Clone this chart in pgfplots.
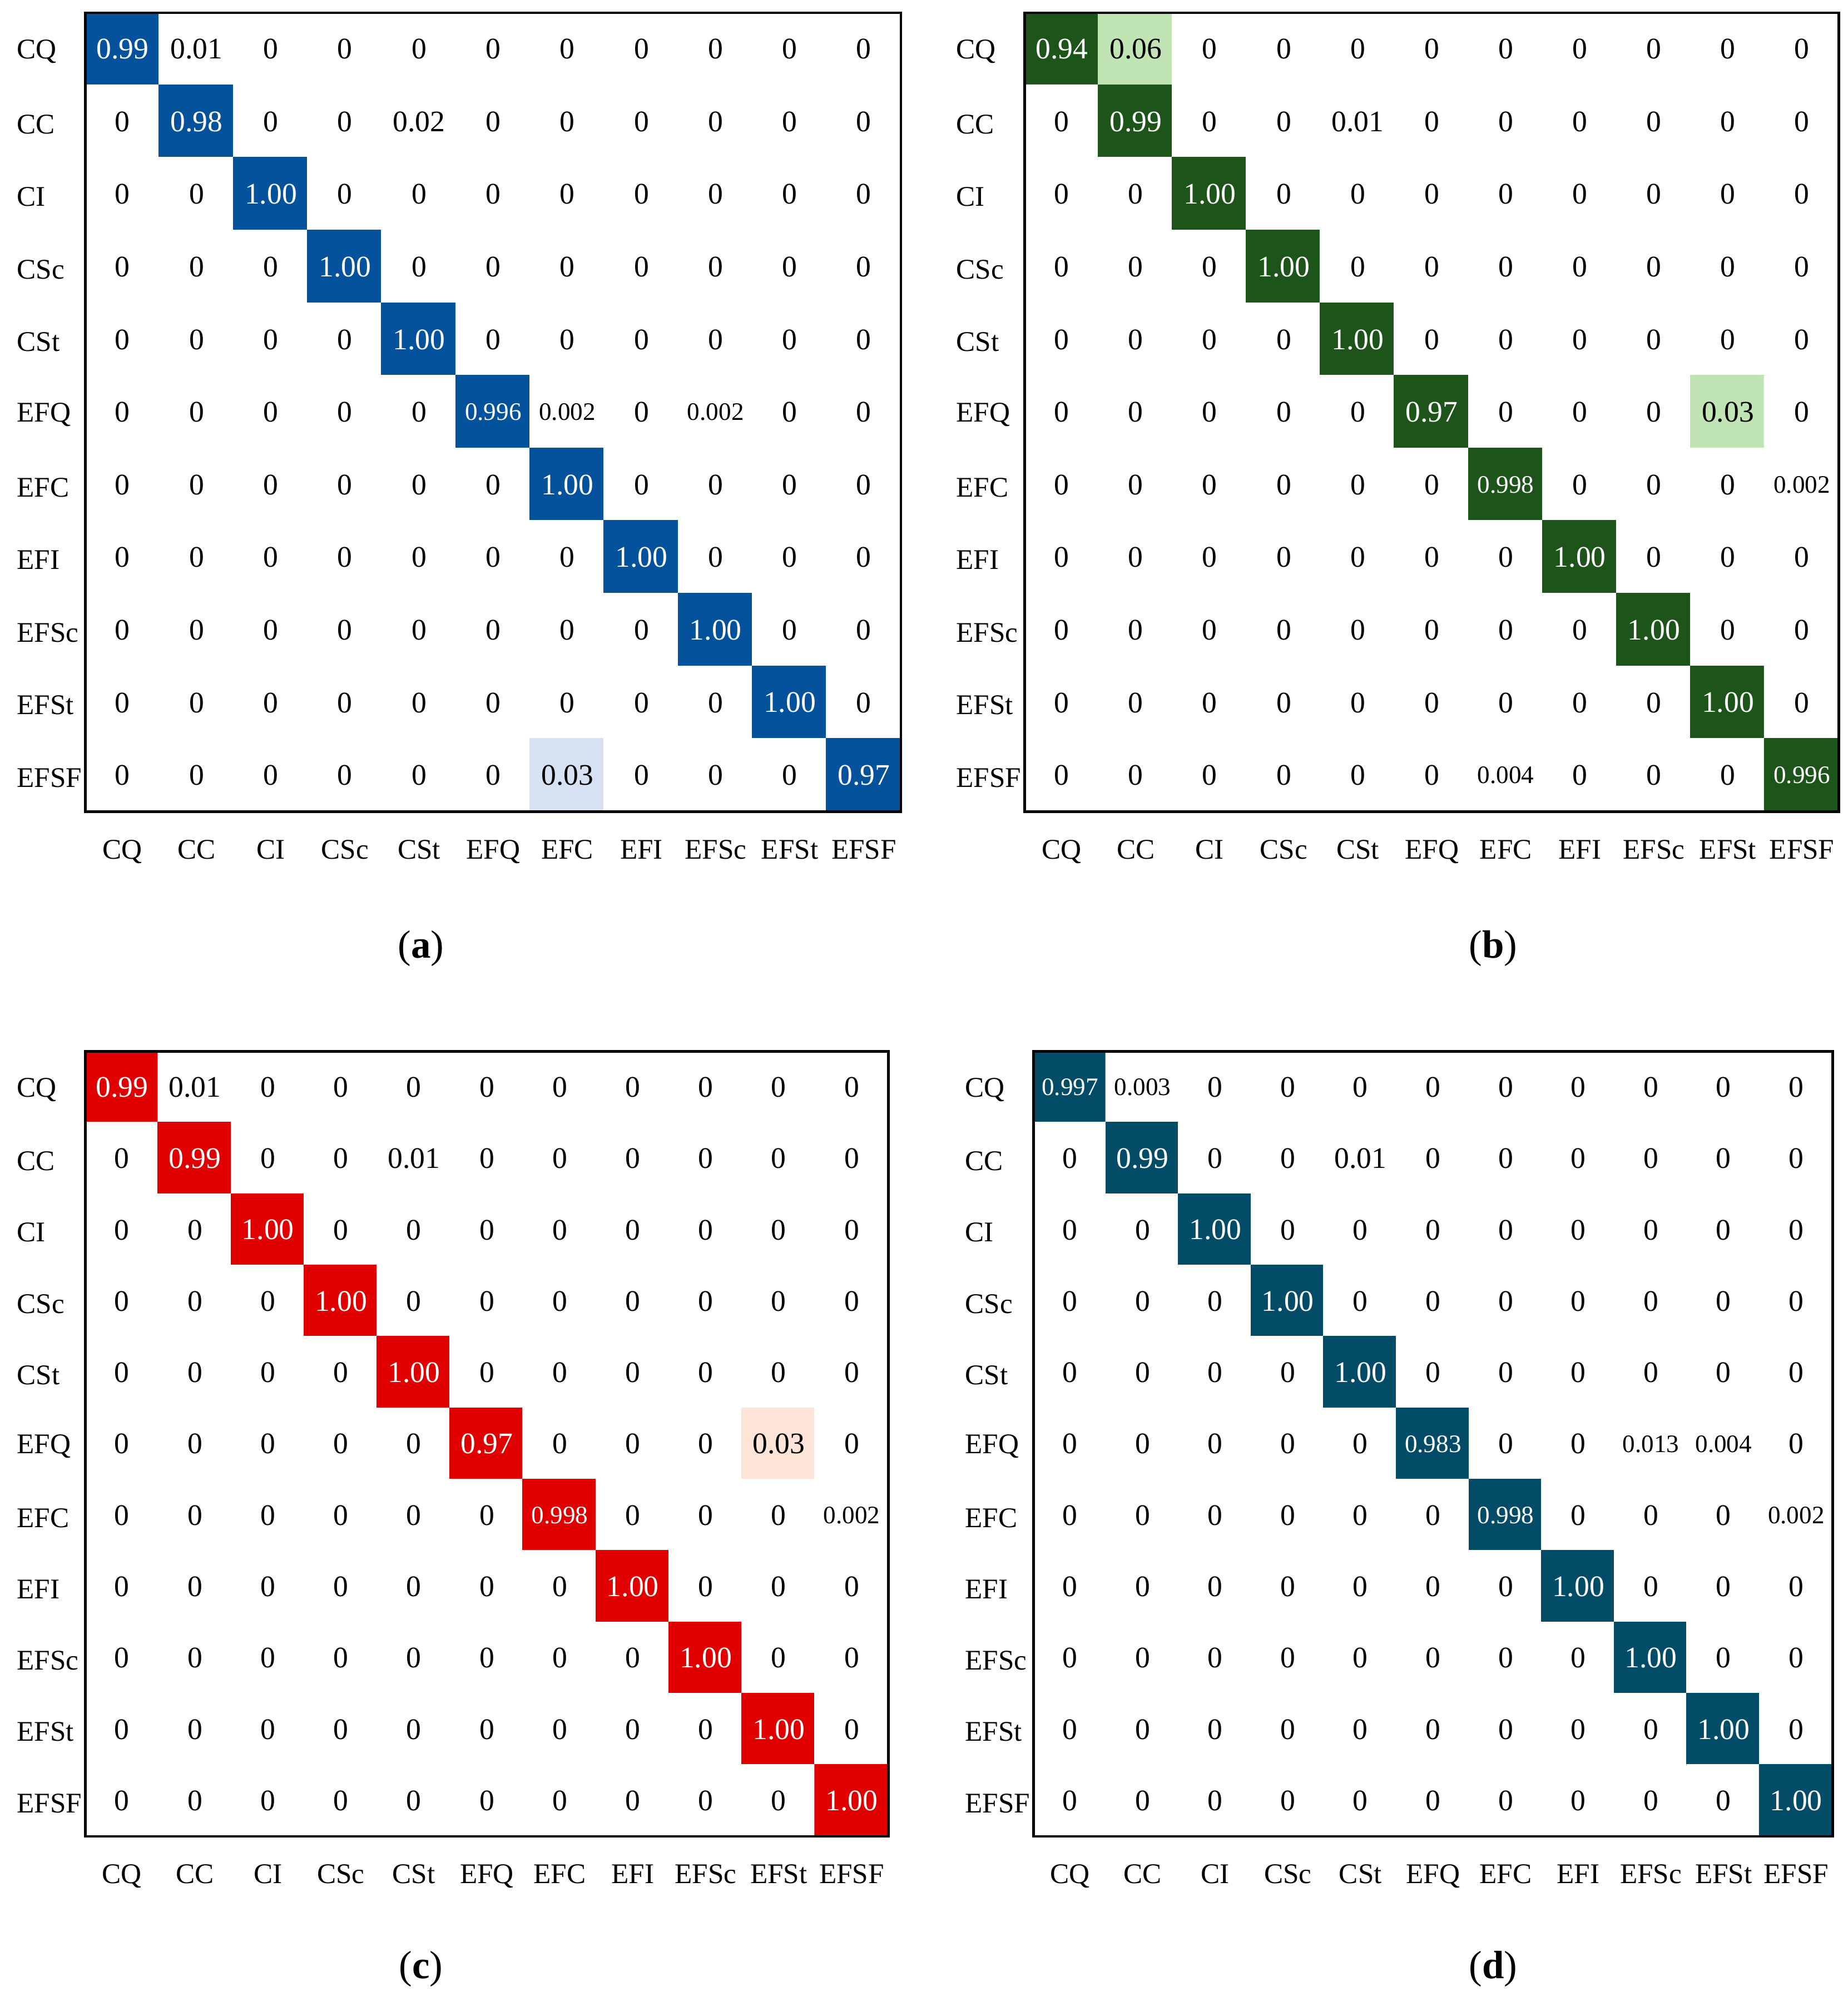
\documentclass[border=0pt]{standalone}
\usepackage{fontspec}
\setmainfont{Liberation Serif}
\usepackage{pgfplots}
\usepackage{pgfplotstable}
\pgfplotsset{compat=1.18}

% one column per panel, read row by row (11 cells per row)
\pgfplotstableread[header=false,row sep=\\]{
0.99\\0.01\\0\\0\\0\\0\\0\\0\\0\\0\\0\\
0\\0.98\\0\\0\\0.02\\0\\0\\0\\0\\0\\0\\
0\\0\\1.00\\0\\0\\0\\0\\0\\0\\0\\0\\
0\\0\\0\\1.00\\0\\0\\0\\0\\0\\0\\0\\
0\\0\\0\\0\\1.00\\0\\0\\0\\0\\0\\0\\
0\\0\\0\\0\\0\\0.996\\0.002\\0\\0.002\\0\\0\\
0\\0\\0\\0\\0\\0\\1.00\\0\\0\\0\\0\\
0\\0\\0\\0\\0\\0\\0\\1.00\\0\\0\\0\\
0\\0\\0\\0\\0\\0\\0\\0\\1.00\\0\\0\\
0\\0\\0\\0\\0\\0\\0\\0\\0\\1.00\\0\\
0\\0\\0\\0\\0\\0\\0.03\\0\\0\\0\\0.97\\
}\tabA
\pgfplotstableread[header=false,row sep=\\]{
0.94\\0.06\\0\\0\\0\\0\\0\\0\\0\\0\\0\\
0\\0.99\\0\\0\\0.01\\0\\0\\0\\0\\0\\0\\
0\\0\\1.00\\0\\0\\0\\0\\0\\0\\0\\0\\
0\\0\\0\\1.00\\0\\0\\0\\0\\0\\0\\0\\
0\\0\\0\\0\\1.00\\0\\0\\0\\0\\0\\0\\
0\\0\\0\\0\\0\\0.97\\0\\0\\0\\0.03\\0\\
0\\0\\0\\0\\0\\0\\0.998\\0\\0\\0\\0.002\\
0\\0\\0\\0\\0\\0\\0\\1.00\\0\\0\\0\\
0\\0\\0\\0\\0\\0\\0\\0\\1.00\\0\\0\\
0\\0\\0\\0\\0\\0\\0\\0\\0\\1.00\\0\\
0\\0\\0\\0\\0\\0\\0.004\\0\\0\\0\\0.996\\
}\tabB
\pgfplotstableread[header=false,row sep=\\]{
0.99\\0.01\\0\\0\\0\\0\\0\\0\\0\\0\\0\\
0\\0.99\\0\\0\\0.01\\0\\0\\0\\0\\0\\0\\
0\\0\\1.00\\0\\0\\0\\0\\0\\0\\0\\0\\
0\\0\\0\\1.00\\0\\0\\0\\0\\0\\0\\0\\
0\\0\\0\\0\\1.00\\0\\0\\0\\0\\0\\0\\
0\\0\\0\\0\\0\\0.97\\0\\0\\0\\0.03\\0\\
0\\0\\0\\0\\0\\0\\0.998\\0\\0\\0\\0.002\\
0\\0\\0\\0\\0\\0\\0\\1.00\\0\\0\\0\\
0\\0\\0\\0\\0\\0\\0\\0\\1.00\\0\\0\\
0\\0\\0\\0\\0\\0\\0\\0\\0\\1.00\\0\\
0\\0\\0\\0\\0\\0\\0\\0\\0\\0\\1.00\\
}\tabC
\pgfplotstableread[header=false,row sep=\\]{
0.997\\0.003\\0\\0\\0\\0\\0\\0\\0\\0\\0\\
0\\0.99\\0\\0\\0.01\\0\\0\\0\\0\\0\\0\\
0\\0\\1.00\\0\\0\\0\\0\\0\\0\\0\\0\\
0\\0\\0\\1.00\\0\\0\\0\\0\\0\\0\\0\\
0\\0\\0\\0\\1.00\\0\\0\\0\\0\\0\\0\\
0\\0\\0\\0\\0\\0.983\\0\\0\\0.013\\0.004\\0\\
0\\0\\0\\0\\0\\0\\0.998\\0\\0\\0\\0.002\\
0\\0\\0\\0\\0\\0\\0\\1.00\\0\\0\\0\\
0\\0\\0\\0\\0\\0\\0\\0\\1.00\\0\\0\\
0\\0\\0\\0\\0\\0\\0\\0\\0\\1.00\\0\\
0\\0\\0\\0\\0\\0\\0\\0\\0\\0\\1.00\\
}\tabD

% white text on dark cells, smaller text for three decimals
\def\cellaux#1.#2#3#4#5\relax{%
  \ifdim\pgfplotspointmeta pt>0.5pt\color{white}\fi
  \ifx.#4\else\ifx x#4\else\fontsize{5.6}{6}\selectfont\fi\fi
  \pgfplotspointmeta}
\newcommand\cellfmt{\expandafter\cellaux\pgfplotspointmeta.xxx\relax}

\pgfplotsset{
  colormap={cmA}{rgb255(0cm)=(255,255,255) rgb255(2.9cm)=(255,255,255) rgb255(3cm)=(214,226,242) rgb255(80cm)=(214,226,242) rgb255(81cm)=(4,82,156) rgb255(100cm)=(4,82,156)},
  colormap={cmB}{rgb255(0cm)=(255,255,255) rgb255(2.9cm)=(255,255,255) rgb255(3cm)=(192,228,180) rgb255(80cm)=(192,228,180) rgb255(81cm)=(29,84,26) rgb255(100cm)=(29,84,26)},
  colormap={cmC}{rgb255(0cm)=(255,255,255) rgb255(2.9cm)=(255,255,255) rgb255(3cm)=(254,228,214) rgb255(80cm)=(254,228,214) rgb255(81cm)=(224,0,0) rgb255(100cm)=(224,0,0)},
  colormap={cmD}{rgb255(0cm)=(255,255,255) rgb255(2.9cm)=(255,255,255) rgb255(3cm)=(200,220,230) rgb255(80cm)=(200,220,230) rgb255(81cm)=(2,76,104) rgb255(100cm)=(2,76,104)},
  cm/.style={
    scale only axis, anchor=north west,
    xmin=-0.5, xmax=10.5, ymin=-0.5, ymax=10.5,
    enlargelimits=false, axis on top,
    xtick={0,...,10}, ytick={0,...,10},
    xticklabels={CQ,CC,CI,CSc,CSt,EFQ,EFC,EFI,EFSc,EFSt,EFSF},
    yticklabels={EFSF,EFSt,EFSc,EFI,EFC,EFQ,CSt,CSc,CI,CC,CQ},
    major tick length=0pt,
    axis line style={line width=0.6pt},
    ticklabel style={font=\fontsize{6.35}{7}\selectfont},
    xticklabel style={anchor=base, yshift=-3.7mm},
    yticklabel style={anchor=east, text width=5.1mm, align=left, inner sep=0pt, xshift=-0.2mm, yshift=-0.2mm},
    point meta min=0, point meta max=1,
    every node near coord/.append style={anchor=center, inner sep=0pt, font=\fontsize{6.65}{7}\selectfont},
  },
}
\newcommand\cells[1]{%
  \addplot[matrix plot*, mesh/cols=11, point meta=explicit]
    table[x index=0, y index=0, x expr={mod(\coordindex,11)}, y expr={10-floor(\coordindex/11)}, meta index=0] {#1};
  \addplot[draw=none, mark=none, nodes near coords={\cellfmt}, point meta=explicit symbolic]
    table[x index=0, y index=0, x expr={mod(\coordindex,11)}, y expr={10-floor(\coordindex/11)}, meta index=0] {#1};
}

\begin{document}
\begin{tikzpicture}
\useasboundingbox (0,0) rectangle (144.8mm,-156.8mm);

\begin{axis}[cm, colormap name=cmA, at={(6.7mm,-1.0mm)}, width=63.9mm, height=62.6mm]
\cells{\tabA}
\end{axis}
\begin{axis}[cm, colormap name=cmB, at={(80.3mm,-1.0mm)}, width=63.8mm, height=62.6mm]
\cells{\tabB}
\end{axis}
\begin{axis}[cm, colormap name=cmC, at={(6.7mm,-82.4mm)}, width=62.9mm, height=61.5mm]
\cells{\tabC}
\end{axis}
\begin{axis}[cm, colormap name=cmD, at={(81.0mm,-82.4mm)}, width=62.6mm, height=61.5mm]
\cells{\tabD}
\end{axis}

\node[font=\fontsize{8.8}{10}\selectfont] at (33.0mm,-74.3mm) {(\textbf{a})};
\node[font=\fontsize{8.8}{10}\selectfont] at (117.0mm,-74.3mm) {(\textbf{b})};
\node[font=\fontsize{8.8}{10}\selectfont] at (33.0mm,-154.3mm) {(\textbf{c})};
\node[font=\fontsize{8.8}{10}\selectfont] at (117.0mm,-154.3mm) {(\textbf{d})};
\end{tikzpicture}
\end{document}
